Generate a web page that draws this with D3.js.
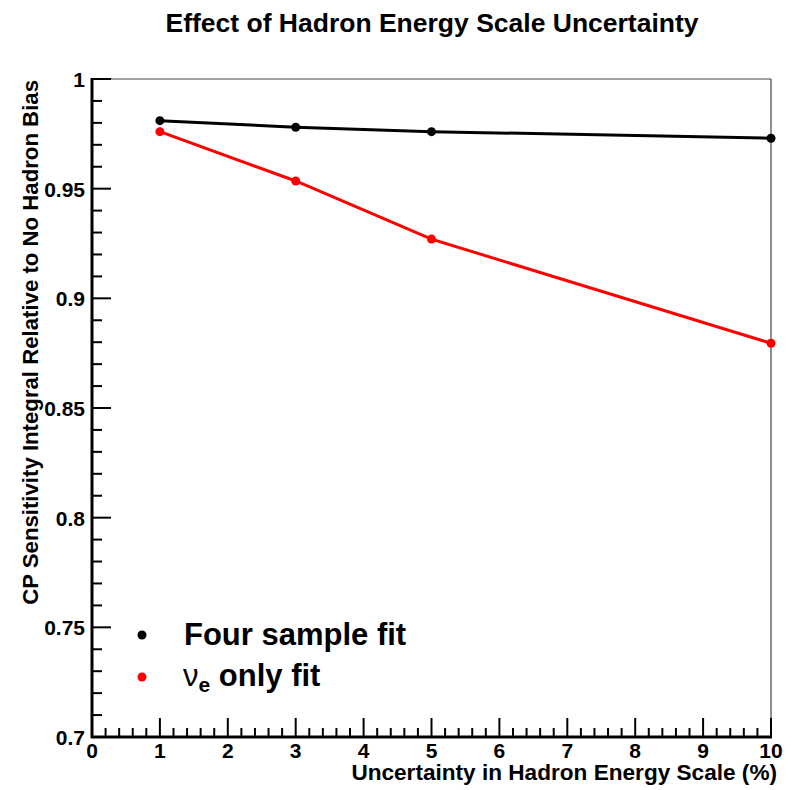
<!DOCTYPE html>
<html><head><meta charset="utf-8">
<script src="https://cdn.jsdelivr.net/npm/d3@7"></script>
<style>body{margin:0;background:#fff}svg{display:block;font-family:"Liberation Sans",Arial,sans-serif;font-weight:bold}</style>
</head><body>
<script>
const xValues = [1, 3, 5, 10];
const fourSample = [0.981, 0.978, 0.976, 0.973];
const nueOnly = [0.976, 0.9535, 0.927, 0.8795];
const xTicks = [0,1,2,3,4,5,6,7,8,9,10];
const yTicks = [0.7,0.75,0.8,0.85,0.9,0.95,1];
const yTickLabels = ["0.7","0.75","0.8","0.85","0.9","0.95","1"];
const seriesNames = ["Four sample fit", "only fit"];
const colors = ["#000000", "#ff0000"];

const W = 792, H = 790;
const L = 92, R = 771, T = 79, B = 737;
const svg = d3.select("body").append("svg").attr("width", W).attr("height", H);
const x = d3.scaleLinear().domain([0,10]).range([L,R]);
const y = d3.scaleLinear().domain([0.7,1]).range([B,T]);

// frame top/right thin
svg.append("line").attr("x1",L).attr("x2",R).attr("y1",T).attr("y2",T).attr("stroke","#444").attr("stroke-width",1.2);
svg.append("line").attr("x1",R).attr("x2",R).attr("y1",T).attr("y2",B).attr("stroke","#444").attr("stroke-width",1.2);

// x axis
const xMinor = d3.range(0, 10.001, 0.2);
svg.append("g").selectAll("line").data(xMinor).join("line")
  .attr("x1",d=>x(d)).attr("x2",d=>x(d)).attr("y1",B).attr("y2",d=>Math.abs(d-Math.round(d))<1e-6? B-19 : B-9)
  .attr("stroke","#000").attr("stroke-width",2);
svg.append("line").attr("x1",L-1).attr("x2",R+1).attr("y1",B).attr("y2",B).attr("stroke","#000").attr("stroke-width",3);
svg.append("g").selectAll("text").data(xTicks).join("text")
  .attr("x",d=>x(d)).attr("y",B+21).attr("text-anchor","middle").attr("font-size",21).text(d=>d);

// y axis
const yMinor = d3.range(0.7, 1.0001, 0.01);
svg.append("g").selectAll("line").data(yMinor).join("line")
  .attr("y1",d=>y(d)).attr("y2",d=>y(d)).attr("x1",L).attr("x2",(d,i)=> i%5===0 ? L+19 : L+10)
  .attr("stroke","#000").attr("stroke-width",2);
svg.append("line").attr("x1",L).attr("x2",L).attr("y1",T-1).attr("y2",B+1).attr("stroke","#000").attr("stroke-width",3);
svg.append("g").selectAll("text").data(yTicks).join("text")
  .attr("x",L-7).attr("y",d=>y(d)+8).attr("text-anchor","end").attr("font-size",21).text((d,i)=>yTickLabels[i]);

// titles
svg.append("text").attr("x",432).attr("y",31.5).attr("text-anchor","middle").attr("font-size",26.5).text("Effect of Hadron Energy Scale Uncertainty");
svg.append("text").attr("x",777).attr("y",780).attr("text-anchor","end").attr("font-size",22.6).text("Uncertainty in Hadron Energy Scale (%)");
svg.append("text").attr("transform",`translate(38,80) rotate(-90)`).attr("text-anchor","end").attr("font-size",22.2).text("CP Sensitivity Integral Relative to No Hadron Bias");

// series
const line = d3.line().x(d=>x(d[0])).y(d=>y(d[1]));
[fourSample, nueOnly].forEach((vals,i)=>{
  const pts = xValues.map((xv,j)=>[xv, vals[j]]);
  svg.append("path").datum(pts).attr("d",line).attr("fill","none").attr("stroke",colors[i]).attr("stroke-width",3);
  svg.append("g").selectAll("circle").data(pts).join("circle")
    .attr("cx",d=>x(d[0])).attr("cy",d=>y(d[1])).attr("r",4.5).attr("fill",colors[i]);
});

// legend
svg.append("circle").attr("cx",142).attr("cy",635).attr("r",4.5).attr("fill",colors[0]);
svg.append("text").attr("x",184).attr("y",645).attr("font-size",31).text(seriesNames[0]);
svg.append("circle").attr("cx",142).attr("cy",677).attr("r",4.5).attr("fill",colors[1]);
const t2 = svg.append("text").attr("x",183).attr("y",686).attr("font-size",31);
t2.append("tspan").attr("font-weight","normal").text("ν");
t2.append("tspan").attr("font-size",21).attr("dy",6).text("e");
t2.append("tspan").attr("dy",-6).text(" " + seriesNames[1]);
</script>
</body></html>
